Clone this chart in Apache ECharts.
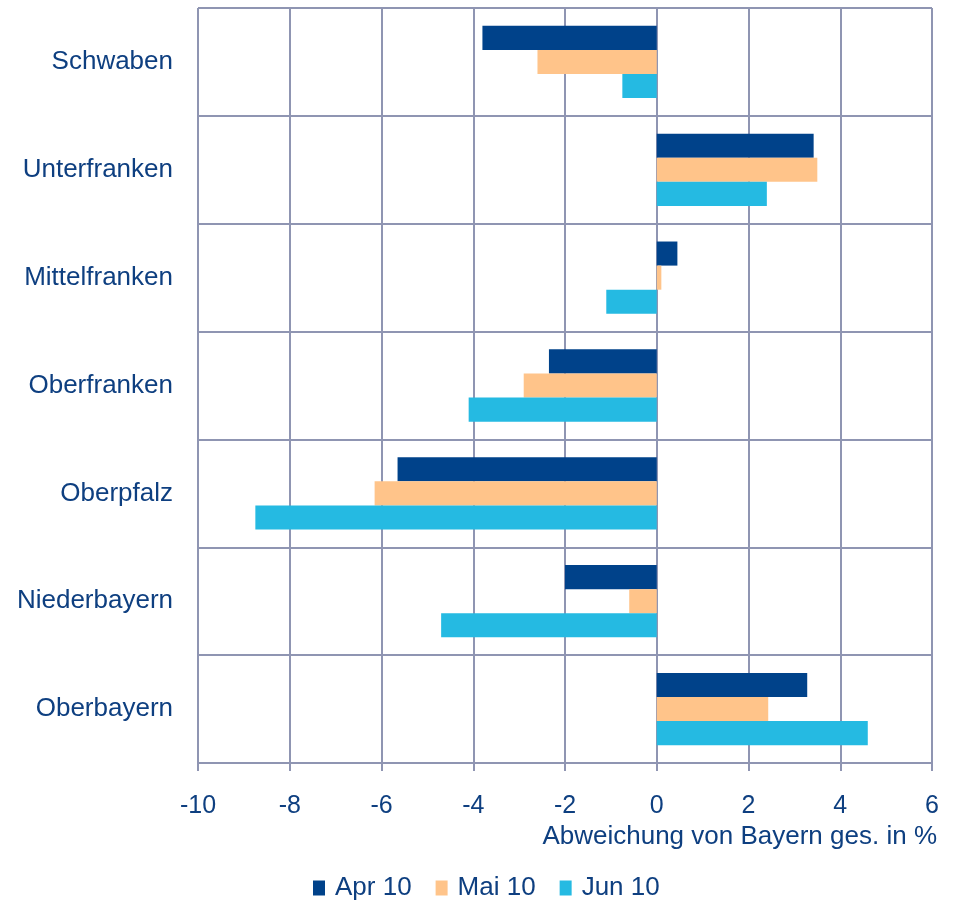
<!DOCTYPE html>
<html>
<head>
<meta charset="utf-8">
<script src="https://cdn.jsdelivr.net/npm/echarts@6/dist/echarts.min.js"></script>
<style>
  html, body { margin: 0; padding: 0; background: #fff; }
  #chart { width: 953px; height: 900px; }
</style>
</head>
<body>
<div id="chart"></div>
<script>
// Regierungsbezirke, von oben nach unten
const regions = ["Schwaben", "Unterfranken", "Mittelfranken", "Oberfranken", "Oberpfalz", "Niederbayern", "Oberbayern"];
const seriesNames = ["Apr 10", "Mai 10", "Jun 10"];
const apr10 = [-3.8, 3.42, 0.45, -2.35, -5.65, -2.0, 3.28];
const mai10 = [-2.6, 3.5, 0.1, -2.9, -6.15, -0.6, 2.43];
const jun10 = [-0.75, 2.4, -1.1, -4.1, -8.75, -4.7, 4.6];
const xTicks = [-10, 6, 2]; // min, max, interval

const textColor = "#0e3f80";
const gridColor = "#8f95b2";
const colors = ["#00428a", "#ffc48a", "#25bae2"];
const font = "Liberation Sans, Arial, sans-serif";

const chart = echarts.init(document.getElementById("chart"));

chart.setOption({
  animation: false,
  textStyle: { fontFamily: font },
  color: colors,
  grid: { left: 198, right: 21, top: 8, bottom: 137, containLabel: false },
  title: {
    text: "Abweichung von Bayern ges. in %",
    right: 11,
    top: 819,
    textStyle: { color: textColor, fontSize: 26, fontWeight: "normal", fontFamily: font }
  },
  legend: {
    data: seriesNames,
    top: 870,
    left: 308,
    icon: "rect",
    itemWidth: 12,
    itemHeight: 15,
    itemGap: 24,
    textStyle: { color: textColor, fontSize: 26, padding: [0, 0, 0, 5] }
  },
  xAxis: {
    type: "value",
    min: xTicks[0],
    max: xTicks[1],
    interval: xTicks[2],
    axisLine: { show: true, onZero: false, lineStyle: { color: gridColor, width: 2 } },
    axisTick: { show: true, length: 8, lineStyle: { color: gridColor, width: 2 } },
    axisLabel: { color: textColor, fontSize: 25, margin: 31 },
    splitLine: { show: true, lineStyle: { color: gridColor, width: 2 } }
  },
  yAxis: {
    type: "category",
    inverse: true,
    data: regions,
    axisLine: { show: false },
    axisTick: { show: false },
    axisLabel: { color: textColor, fontSize: 26, margin: 25 },
    splitLine: { show: true, lineStyle: { color: gridColor, width: 2 } }
  },
  series: [
    { name: seriesNames[0], type: "bar", data: apr10, barGap: "0%", barCategoryGap: "33%" },
    { name: seriesNames[1], type: "bar", data: mai10, barGap: "0%", barCategoryGap: "33%" },
    { name: seriesNames[2], type: "bar", data: jun10, barGap: "0%", barCategoryGap: "33%" }
  ]
});
</script>
</body>
</html>
